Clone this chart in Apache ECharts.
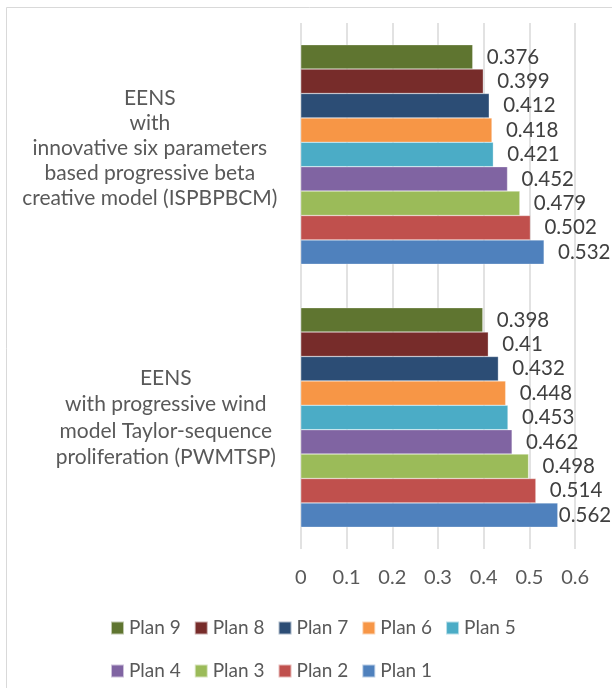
<!DOCTYPE html>
<html>
<head>
<meta charset="utf-8">
<script src="https://cdn.jsdelivr.net/npm/echarts@6/dist/echarts.min.js"></script>
<style>
  html, body { margin: 0; padding: 0; background: #ffffff; }
  #chart { width: 612px; height: 688px; }
</style>
</head>
<body>
<div id="chart"></div>
<script>
// Category labels (bottom to top on the y axis)
const categories = [
  'EENS\nwith progressive wind\nmodel Taylor-sequence\nproliferation (PWMTSP)',
  'EENS\nwith\ninnovative six parameters\nbased progressive beta\ncreative model (ISPBPBCM)'
];

// Series names and colours
const planNames = ['Plan 1', 'Plan 2', 'Plan 3', 'Plan 4', 'Plan 5', 'Plan 6', 'Plan 7', 'Plan 8', 'Plan 9'];
const planColors = ['#4F81BD', '#C0504D', '#9BBB59', '#8064A2', '#4BACC6', '#F79646', '#2C4D75', '#772C2A', '#5F7530'];

// EENS values per plan: [PWMTSP, ISPBPBCM]
const plan1 = [0.562, 0.532];
const plan2 = [0.514, 0.502];
const plan3 = [0.498, 0.479];
const plan4 = [0.462, 0.452];
const plan5 = [0.453, 0.421];
const plan6 = [0.448, 0.418];
const plan7 = [0.432, 0.412];
const plan8 = [0.41, 0.399];
const plan9 = [0.398, 0.376];
const planValues = [plan1, plan2, plan3, plan4, plan5, plan6, plan7, plan8, plan9];

// Value axis ticks
const xTicks = [0, 0.1, 0.2, 0.3, 0.4, 0.5, 0.6];

const FONT = 'Lato';
const TEXT = '#595959';

const chart = echarts.init(document.getElementById('chart'), null, { renderer: 'canvas' });

const xMax = xTicks[xTicks.length - 1];

// Series built in reverse so Plan 9 sits at the top of each group
const series = planNames.map((name, i) => ({
  name: name,
  type: 'bar',
  barGap: '0%',
  barCategoryGap: '16.5%',
  itemStyle: { color: planColors[i], borderColor: 'rgba(255,255,255,0.6)', borderWidth: 0.5 },
  label: {
    show: true,
    position: 'right',
    distance: 14,
    fontFamily: FONT,
    fontSize: 20.5,
    color: '#404040',
    formatter: p => String(p.value)
  },
  // labels of bars that nearly reach the axis end sit right next to the bar
  data: planValues[i].map(v => v > xMax - 0.05 ? { value: v, label: { distance: 1 } } : v)
})).reverse();

const option = {
  backgroundColor: '#ffffff',
  animation: false,
  color: planColors,
  grid: { left: 300.8, right: 36.8, top: 23, bottom: 139, containLabel: false, outerBoundsMode: 'none' },
  xAxis: {
    type: 'value',
    min: 0,
    max: xMax,
    interval: 0.1,
    axisLine: { show: false },
    axisTick: { show: false },
    splitLine: { show: true, lineStyle: { color: '#d9d9d9', width: 1.5 } },
    axisLabel: {
      margin: 19,
      fontFamily: FONT,
      fontSize: 20,
      color: TEXT,
      formatter: v => String(Math.round(v * 10) / 10)
    }
  },
  yAxis: {
    type: 'category',
    data: categories,
    axisLine: { show: false },
    axisTick: { show: false },
    axisLabel: {
      margin: 4,
      fontFamily: FONT,
      fontSize: 21,
      color: TEXT,
      // each line is centred inside a fixed-width box; the upper group's
      // box is wider and carries a short spacer line underneath
      formatter: (value, idx) => {
        const tag = idx === 1 ? 'b' : 'a';
        const body = value.split('\n').map(s => '{' + tag + '|' + s + '}').join('\n');
        return idx === 1 ? body + '\n{g| }' : body;
      },
      rich: {
        a: { width: 262, align: 'center', fontFamily: FONT, fontSize: 21, lineHeight: 26.5, color: TEXT },
        b: { width: 294, align: 'center', fontFamily: FONT, fontSize: 21, lineHeight: 25, color: TEXT },
        g: { fontSize: 4, lineHeight: 12 }
      }
    }
  },
  legend: {
    data: planNames.slice().reverse(),
    left: 105,
    top: 608,
    width: 440,
    itemWidth: 13,
    itemHeight: 13,
    itemGap: 13,
    icon: 'rect',
    textStyle: { fontFamily: FONT, fontSize: 19, color: TEXT, lineHeight: 30 }
  },
  graphic: [{
    type: 'rect',
    shape: { x: 6.5, y: 7.5, width: 700, height: 700 },
    style: { fill: 'none', stroke: '#d9d9d9', lineWidth: 1 },
    silent: true
  }],
  series: series
};

chart.setOption(option);
</script>
</body>
</html>
